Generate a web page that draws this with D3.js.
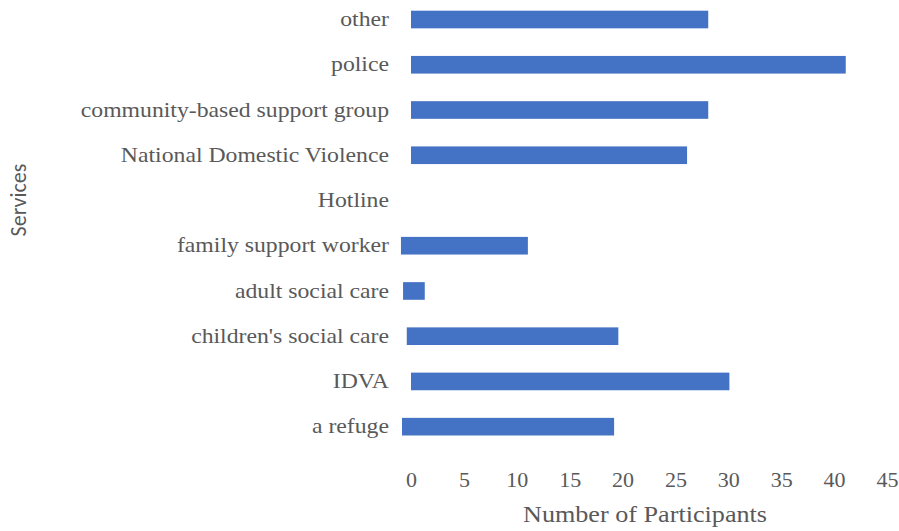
<!DOCTYPE html>
<html>
<head>
<meta charset="utf-8">
<script src="https://cdn.jsdelivr.net/npm/d3@7"></script>
<style>
  html, body { margin: 0; padding: 0; background: #fff; }
  svg { display: block; }
</style>
</head>
<body>
<svg id="chart" width="899" height="531"></svg>
<script>
// Categories, top to bottom as drawn
const categories = [
  "other",
  "police",
  "community-based support group",
  "National Domestic Violence",
  "Hotline",
  "family support worker",
  "adult social care",
  "children's social care",
  "IDVA",
  "a refuge"
];
// Where each bar begins and ends on the value axis
const barStart = [0, 0, 0, 0, null, -0.95, -0.75, -0.4, 0, -0.85];
const barEnd   = [28.1, 41.1, 28.1, 26.1, null, 11.05, 1.3, 19.6, 30.1, 19.2];
const xTicks = [0, 5, 10, 15, 20, 25, 30, 35, 40, 45];
const xTitle = "Number of Participants";
const yTitle = "Services";

const svg = d3.select("#chart");
const textColor = "#595959";
const serif = "'Liberation Serif', monospace";

const x = d3.scaleLinear().domain([0, 45]).range([411, 887]);
const y = d3.scaleBand().domain(categories).range([-3.1, 449.3]).paddingInner(0.61).paddingOuter(0.305);

// Bars
svg.append("g").selectAll("rect")
  .data(categories.map((c, i) => ({ c, s: barStart[i], e: barEnd[i] })).filter(d => d.e != null))
  .join("rect")
  .attr("x", d => x(d.s))
  .attr("y", d => y(d.c))
  .attr("width", d => x(d.e) - x(d.s))
  .attr("height", y.bandwidth())
  .attr("fill", "#4472C4");

// Category axis (labels only)
const yAxis = d3.axisLeft(y).tickSize(0).tickPadding(0);
const gy = svg.append("g").attr("transform", "translate(389,0)").call(yAxis);
gy.select(".domain").remove();
gy.selectAll("text")
  .attr("fill", textColor)
  .attr("dy", null)
  .attr("y", 6.6)
  .attr("transform", "scale(1.13,1)")
  .style("font-family", serif)
  .style("font-size", "21px");

// Value axis (labels only)
const xAxis = d3.axisBottom(x).tickValues(xTicks).tickSize(0).tickPadding(0).tickFormat(d3.format("d"));
const gx = svg.append("g").attr("transform", "translate(0,487)").call(xAxis);
gx.select(".domain").remove();
gx.selectAll("text")
  .attr("fill", textColor)
  .attr("dy", null)
  .attr("y", 0)
  .style("font-family", serif)
  .style("font-size", "22px");

// Axis titles
svg.append("text")
  .attr("transform", "translate(645,522) scale(1.09,1)")
  .attr("text-anchor", "middle")
  .attr("fill", textColor)
  .style("font-family", serif)
  .style("font-size", "24px")
  .text(xTitle);

svg.append("text")
  .attr("transform", "translate(26,200) rotate(-90)")
  .attr("text-anchor", "middle")
  .attr("fill", textColor)
  .style("font-family", "'Carlito', sans-serif")
  .style("font-size", "22px")
  .text(yTitle);
</script>
</body>
</html>
